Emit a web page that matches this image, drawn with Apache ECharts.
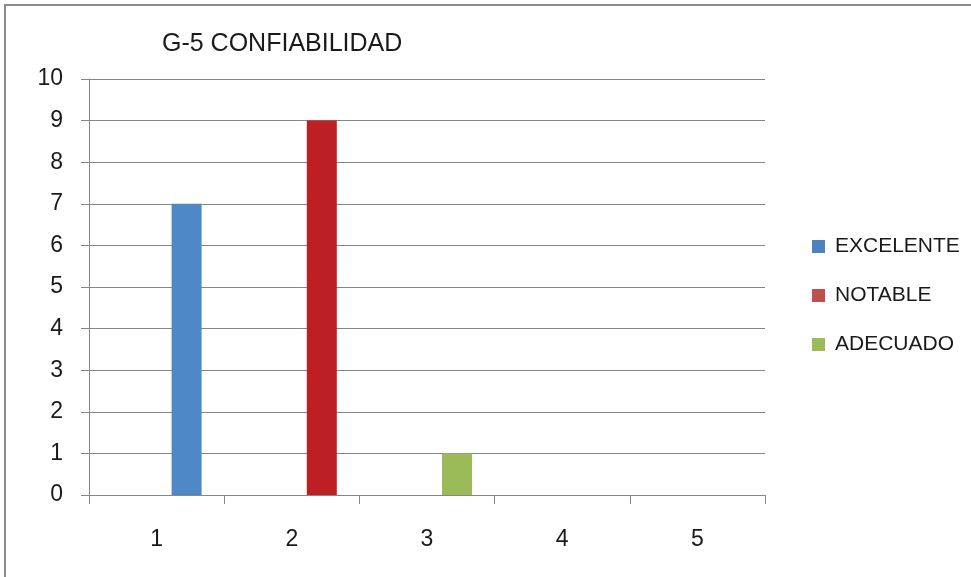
<!DOCTYPE html>
<html>
<head>
<meta charset="utf-8">
<title>G-5 CONFIABILIDAD</title>
<script src="https://cdn.jsdelivr.net/npm/echarts@6/dist/echarts.min.js"></script>
<style>
  html, body { margin: 0; padding: 0; background: #ffffff; }
  #chart { width: 971px; height: 577px; }
</style>
</head>
<body>
<div id="chart"></div>
<script>
// Chart data
const categories = ['1', '2', '3', '4', '5'];
const excelente = [7, null, null, null, null];
const notable = [null, 9, null, null, null];
const adecuado = [null, null, 1, null, null];
const yTicks = { min: 0, max: 10, interval: 1 };

const FONT = '"Liberation Sans", Arial, sans-serif';
const chart = echarts.init(document.getElementById('chart'), null, { renderer: 'canvas' });

// Two empty slots keep the clustered layout: the rated series sit in the third slot of each group
const emptySlot = categories.map(() => null);

chart.setOption({
  animation: false,
  backgroundColor: '#ffffff',
  title: {
    text: 'G-5 CONFIABILIDAD',
    left: 162,
    top: 32,
    padding: 0,
    textStyle: { fontFamily: FONT, fontSize: 25, fontWeight: 'normal', color: '#1a1a1a' }
  },
  legend: {
    orient: 'vertical',
    left: 812,
    top: 236,
    padding: 0,
    itemWidth: 13,
    itemHeight: 13,
    itemGap: 28,
    icon: 'rect',
    textStyle: { fontFamily: FONT, fontSize: 21, lineHeight: 20, color: '#1a1a1a', padding: [0, 0, 0, 5] },
    data: [
      { name: 'EXCELENTE', itemStyle: { color: '#4F81BD' } },
      { name: 'NOTABLE', itemStyle: { color: '#C0504D' } },
      { name: 'ADECUADO', itemStyle: { color: '#9BBB59' } }
    ]
  },
  grid: { left: 89, top: 79, width: 676, height: 416, containLabel: false },
  xAxis: {
    type: 'category',
    data: categories,
    axisLine: { lineStyle: { color: '#868686', width: 1 } },
    axisTick: { show: true, length: 9, lineStyle: { color: '#868686' }, alignWithLabel: false },
    axisLabel: { fontFamily: FONT, fontSize: 23, color: '#1a1a1a', margin: 33 }
  },
  yAxis: {
    type: 'value',
    min: yTicks.min,
    max: yTicks.max,
    interval: yTicks.interval,
    axisLine: { show: true, lineStyle: { color: '#868686', width: 1 } },
    axisTick: { show: true, length: 8, lineStyle: { color: '#868686' } },
    axisLabel: { fontFamily: FONT, fontSize: 23, color: '#1a1a1a', margin: 26, padding: [4, 0, 0, 0] },
    splitLine: { lineStyle: { color: '#868686', width: 1 } }
  },
  series: [
    { name: 'slotA', type: 'bar', data: emptySlot, barWidth: 30, barGap: '0%', silent: true },
    { name: 'slotB', type: 'bar', data: emptySlot, barWidth: 30, barGap: '0%', silent: true },
    { name: 'EXCELENTE', type: 'bar', stack: 'rated', data: excelente, barWidth: 30, barGap: '0%',
      itemStyle: { color: '#4F88C6' } },
    { name: 'NOTABLE', type: 'bar', stack: 'rated', data: notable, barWidth: 30, barGap: '0%',
      itemStyle: { color: '#BD1F25' } },
    { name: 'ADECUADO', type: 'bar', stack: 'rated', data: adecuado, barWidth: 30, barGap: '0%',
      itemStyle: { color: '#9BBB59' } }
  ],
  graphic: [
    // outer frame (top and left edges)
    { type: 'line', shape: { x1: 4, y1: 5, x2: 971, y2: 5 }, style: { stroke: '#8c8c8c', lineWidth: 2 } },
    { type: 'line', shape: { x1: 5, y1: 4, x2: 5, y2: 577 }, style: { stroke: '#8c8c8c', lineWidth: 2 } }
  ]
});
</script>
</body>
</html>
